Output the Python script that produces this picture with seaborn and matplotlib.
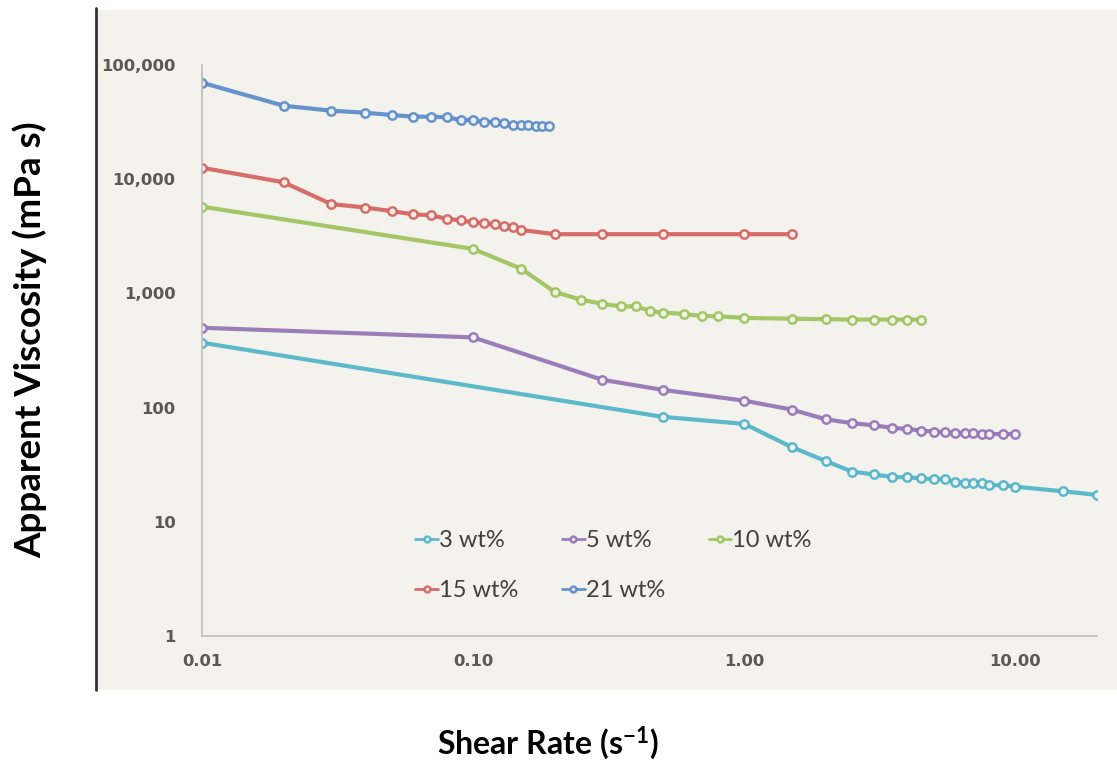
import numpy as np
import pandas as pd
import seaborn as sns
import matplotlib
matplotlib.use("Agg")
import matplotlib.pyplot as plt
from matplotlib.patches import Rectangle
from matplotlib.lines import Line2D
from matplotlib.ticker import FixedLocator, FuncFormatter, NullLocator

# ---------------- data ----------------
x_3 = [0.01, 0.5, 1.0, 1.5, 2.0, 2.5, 3.0, 3.5, 4.0, 4.5, 5.0, 5.5, 6.0, 6.5, 7.0, 7.5, 8.0, 9.0, 10.0, 15.0, 20.0]
y_3 = [370, 83, 72, 45, 34, 27.5, 26, 24.7, 24.5, 24, 23.6, 23.6, 22.2, 22, 22, 21.7, 20.9, 20.9, 20.3, 18.5, 17.2]

x_5 = [0.01, 0.1, 0.3, 0.5, 1.0, 1.5, 2.0, 2.5, 3.0, 3.5, 4.0, 4.5, 5.0, 5.5, 6.0, 6.5, 7.0, 7.5, 8.0, 9.0, 10.0]
y_5 = [500, 412, 175, 143, 115, 96, 79, 73, 70, 66.5, 65, 63, 61.5, 60.8, 60, 59.5, 59.5, 58.7, 58.7, 58.7, 58.7]

x_10 = [0.01, 0.1, 0.15, 0.2, 0.25, 0.3, 0.35, 0.4, 0.45, 0.5, 0.6, 0.7, 0.8, 1.0, 1.5, 2.0, 2.5, 3.0, 3.5, 4.0, 4.5]
y_10 = [5750, 2450, 1650, 1030, 880, 810, 770, 770, 700, 680, 660, 635, 630, 610, 600, 595, 590, 590, 590, 590, 590]

x_15 = [0.01, 0.02, 0.03, 0.04, 0.05, 0.06, 0.07, 0.08, 0.09, 0.10, 0.11, 0.12, 0.13, 0.14, 0.15, 0.2, 0.3, 0.5, 1.0, 1.5]
y_15 = [12600, 9400, 6050, 5650, 5250, 4930, 4830, 4500, 4370, 4190, 4130, 4030, 3910, 3840, 3600, 3300, 3300, 3300, 3300, 3300]

x_21 = [0.01, 0.02, 0.03, 0.04, 0.05, 0.06, 0.07, 0.08, 0.09, 0.10, 0.11, 0.12, 0.13, 0.14, 0.15, 0.16, 0.17, 0.18, 0.19]
y_21 = [70000, 44000, 39800, 38200, 36500, 35300, 35300, 34800, 33000, 33000, 31700, 31700, 31000, 29800, 29900, 29900, 29400, 29400, 29400]

series_labels = ["3 wt%", "5 wt%", "10 wt%", "15 wt%", "21 wt%"]
series_x = [x_3, x_5, x_10, x_15, x_21]
series_y = [y_3, y_5, y_10, y_15, y_21]
colors = ["#4fb3c9", "#9473b6", "#9cc35c", "#d4625f", "#5b8bc9"]

x_ticks = [0.01, 0.1, 1.0, 10.0]
y_ticks = [1, 10, 100, 1000, 10000, 100000]

# ---------------- style ----------------
sns.set_style("white")
plt.rcParams["font.family"] = ["DejaVu Sans"]
plt.rcParams["mathtext.default"] = "regular"

W, H = 1117, 762
fig = plt.figure(figsize=(W / 100, H / 100), dpi=100)
fig.patch.set_facecolor("white")

panel_bg = "#f3f2ec"
fig.patches.append(Rectangle((96 / W, (H - 690) / H), 1 - 96 / W, (690 - 10) / H,
                             transform=fig.transFigure, facecolor=panel_bg,
                             edgecolor="none", zorder=-5))
fig.lines.append(Line2D([96 / W, 96 / W], [(H - 690) / H, (H - 8) / H],
                        transform=fig.transFigure, color="#333333", lw=2, zorder=-4))

x0, x1 = 202, 1097
y0, y1 = 636, 65
ax = fig.add_axes([x0 / W, (H - y0) / H, (x1 - x0) / W, (y0 - y1) / H])
ax.set_facecolor("none")
ax.set_zorder(2)

for lab, xs, ys, c in zip(series_labels, series_x, series_y, colors):
    df = pd.DataFrame({"x": xs, "y": ys})
    sns.lineplot(data=df, x="x", y="y", ax=ax, color=c, linewidth=3.0,
                 marker="o", markersize=6, markeredgewidth=1.8,
                 markerfacecolor="#f7f7f2", markeredgecolor=c,
                 label=lab, sort=False, alpha=0.92)

ax.set_xscale("log")
ax.set_yscale("log")
ax.set_xlim(0.01, 20)
ax.set_ylim(1, 100000)

ax.xaxis.set_major_locator(FixedLocator(x_ticks))
ax.yaxis.set_major_locator(FixedLocator(y_ticks))
ax.xaxis.set_minor_locator(NullLocator())
ax.yaxis.set_minor_locator(NullLocator())
ax.xaxis.set_major_formatter(FuncFormatter(lambda v, p: f"{v:.2f}"))
ax.yaxis.set_major_formatter(FuncFormatter(lambda v, p: f"{v:,.0f}"))

for s in ["top", "right"]:
    ax.spines[s].set_visible(False)
for s in ["left", "bottom"]:
    ax.spines[s].set_color("#bdbdbd")
    ax.spines[s].set_linewidth(1.2)

ax.tick_params(axis="both", direction="in", length=5, width=1, color="#bdbdbd",
               labelcolor="#595959", labelsize=11.8)
ax.tick_params(axis="x", pad=13)
ax.tick_params(axis="y", pad=19)
for t in ax.get_xticklabels() + ax.get_yticklabels():
    t.set_fontweight("bold")

ax.set_xlabel("Shear Rate (s$^{-1}$)", fontsize=23, fontweight="bold",
              family=["Lato", "DejaVu Sans"], color="black", va="center")
ax.set_ylabel("Apparent Viscosity (mPa s)", fontsize=26.5, fontweight="bold",
              family=["Lato", "DejaVu Sans"], color="black", va="center")
ax.xaxis.set_label_coords((548 - x0) / (x1 - x0), (y0 - 743) / (y0 - y1))
ax.yaxis.set_label_coords((30 - x0) / (x1 - x0), (y0 - 340) / (y0 - y1))

handles, labels = ax.get_legend_handles_labels()
order = [0, 3, 1, 4, 2]
leg = ax.legend([handles[i] for i in order], [labels[i] for i in order],
                ncol=3, frameon=False, loc="upper left",
                bbox_to_anchor=((406 - x0) / (x1 - x0), (y0 - 521) / (y0 - y1)),
                prop={"family": ["Lato", "DejaVu Sans"], "size": 17},
                handlelength=0.95, handletextpad=0.05, columnspacing=1.85,
                labelspacing=1.2, markerscale=0.7, borderaxespad=0)
for t in leg.get_texts():
    t.set_color("#404040")
for h in leg.legend_handles:
    h.set_linewidth(2.0)

fig.savefig("out.png", dpi=100, facecolor=fig.get_facecolor())
